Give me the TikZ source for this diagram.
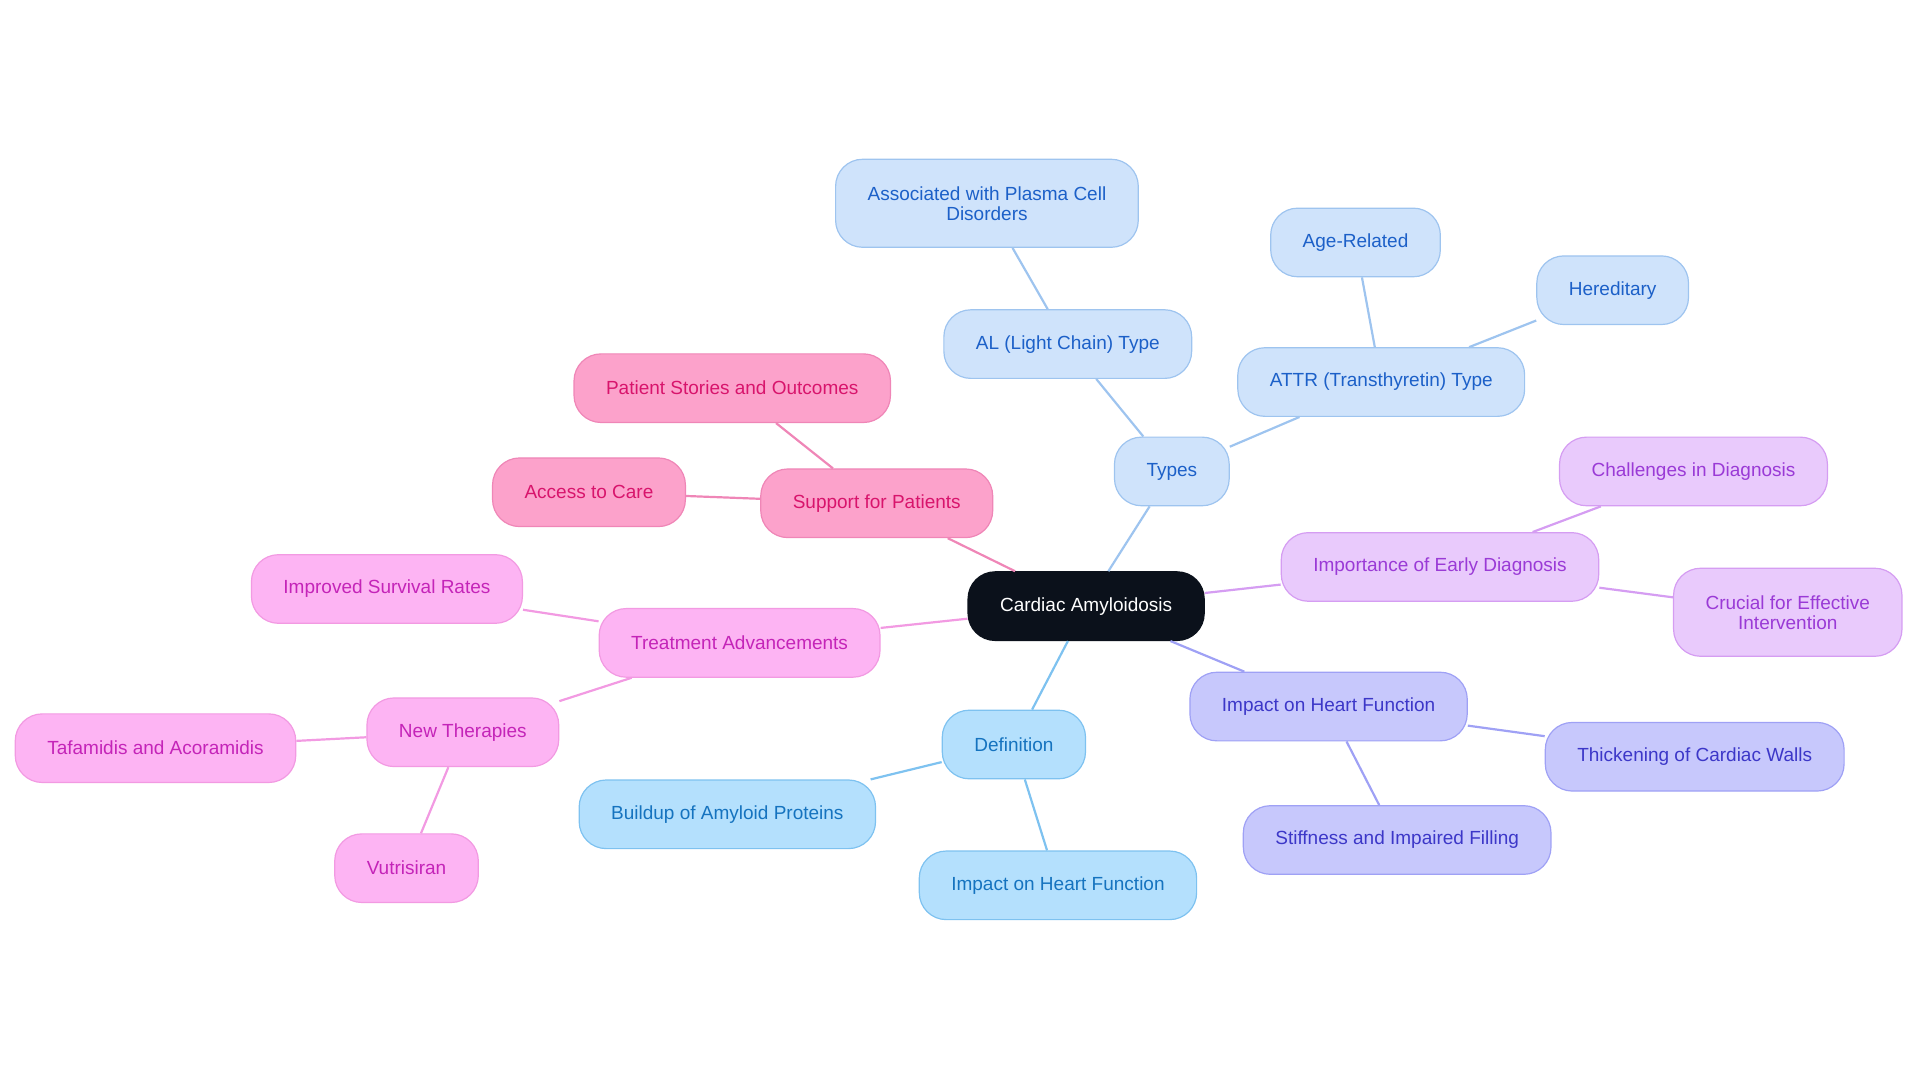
\documentclass[tikz,border=0pt]{standalone}
\usepackage{fontspec}
\setmainfont{Liberation Sans}
\usetikzlibrary{shapes}
\definecolor{rootfill}{HTML}{0B111B}
\definecolor{typesfill}{HTML}{CFE3FB}
\definecolor{typesline}{HTML}{9EC4EF}
\definecolor{typestext}{HTML}{1C60C8}
\definecolor{deffill}{HTML}{B4E0FD}
\definecolor{defline}{HTML}{7EC2F0}
\definecolor{deftext}{HTML}{1573BF}
\definecolor{earlyfill}{HTML}{E9CAFC}
\definecolor{earlyline}{HTML}{D59DF2}
\definecolor{earlytext}{HTML}{9A3AD6}
\definecolor{heartfill}{HTML}{C7C8FC}
\definecolor{heartline}{HTML}{9FA1F5}
\definecolor{hearttext}{HTML}{3C37C8}
\definecolor{treatfill}{HTML}{FDB4F3}
\definecolor{treatline}{HTML}{F29AE2}
\definecolor{treattext}{HTML}{C424B8}
\definecolor{supfill}{HTML}{FCA2CB}
\definecolor{supline}{HTML}{EF86B7}
\definecolor{suptext}{HTML}{D8146C}
\tikzset{
		topic/.style={draw, rounded corners=13.5pt, minimum height=34.3pt, inner xsep=16pt,
			align=center, line width=0.6pt, font=\fontsize{9.5}{10}\selectfont},
		twoline/.style={minimum height=44pt},
		root/.style={topic, fill=rootfill, draw=rootfill, text=white},
		typesbox/.style={topic, fill=typesfill, draw=typesline, text=typestext},
		defbox/.style={topic, fill=deffill, draw=defline, text=deftext},
		earlybox/.style={topic, fill=earlyfill, draw=earlyline, text=earlytext},
		heartbox/.style={topic, fill=heartfill, draw=heartline, text=hearttext},
		treatbox/.style={topic, fill=treatfill, draw=treatline, text=treattext},
		supbox/.style={topic, fill=supfill, draw=supline, text=suptext},
		link/.style={line width=1.1pt}
	}

\begin{document}
\begin{tikzpicture}[x=0.6122pt, y=-0.6122pt]
				\useasboundingbox (0,0) rectangle (1568,884.5);

				\node[root]     (cardiac)    at (887,495)  {Cardiac Amyloidosis};

				% types branch
				\node[typesbox] (types)      at (957,385)  {Types};
				\node[typesbox] (al)         at (872,281)  {AL (Light Chain) Type};
				\node[typesbox, twoline] (plasma) at (806,166) {Associated with Plasma Cell\\Disorders};
				\node[typesbox] (attr)       at (1128,312) {ATTR (Transthyretin) Type};
				\node[typesbox] (age)        at (1107,198) {Age-Related};
				\node[typesbox] (hered)      at (1317,237) {Hereditary};

				% early diagnosis branch
				\node[earlybox] (early)      at (1176,463) {Importance of Early Diagnosis};
				\node[earlybox] (challenges) at (1383,385) {Challenges in Diagnosis};
				\node[earlybox, twoline] (crucial) at (1460,500) {Crucial for Effective\\Intervention};

				% heart function branch
				\node[heartbox] (heart)      at (1085,577) {Impact on Heart Function};
				\node[heartbox] (walls)      at (1384,618) {Thickening of Cardiac Walls};
				\node[heartbox] (stiff)      at (1141,686) {Stiffness and Impaired Filling};

				% definition branch
				\node[defbox]   (definition) at (828,608)  {Definition};
				\node[defbox]   (buildup)    at (594,665)  {Buildup of Amyloid Proteins};
				\node[defbox]   (impact)     at (864,723)  {Impact on Heart Function};

				% treatment branch
				\node[treatbox] (treatment)  at (604,525)  {Treatment Advancements};
				\node[treatbox] (survival)   at (316,481)  {Improved Survival Rates};
				\node[treatbox] (therapies)  at (378,598)  {New Therapies};
				\node[treatbox] (tafamidis)  at (127,611)  {Tafamidis and Acoramidis};
				\node[treatbox] (vutrisiran) at (332,709)  {Vutrisiran};

				% support branch
				\node[supbox]   (support)    at (716,411)  {Support for Patients};
				\node[supbox]   (stories)    at (598,317)  {Patient Stories and Outcomes};
				\node[supbox]   (access)     at (481,402)  {Access to Care};

				\path[link, draw=typesline] (cardiac) edge (types)
					(types) edge (al)
					(al) edge (plasma)
					(types) edge (attr)
					(attr) edge (age)
					(attr) edge (hered);
				\path[link, draw=earlyline] (cardiac) edge (early)
					(early) edge (challenges)
					(early) edge (crucial);
				\path[link, draw=heartline] (cardiac) edge (heart)
					(heart) edge (walls)
					(heart) edge (stiff);
				\path[link, draw=defline] (cardiac) edge (definition)
					(definition) edge (buildup)
					(definition) edge (impact);
				\path[link, draw=treatline] (cardiac) edge (treatment)
					(treatment) edge (survival)
					(treatment) edge (therapies)
					(therapies) edge (tafamidis)
					(therapies) edge (vutrisiran);
				\path[link, draw=supline] (cardiac) edge (support)
					(support) edge (stories)
					(support) edge (access);
			\end{tikzpicture}
\end{document}
